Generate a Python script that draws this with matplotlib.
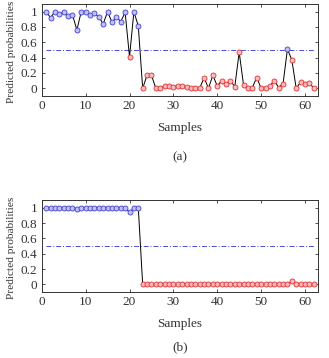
import matplotlib
matplotlib.use("Agg")
import matplotlib.pyplot as plt
import numpy as np

plt.rcParams['font.family'] = ['Liberation Serif', 'DejaVu Serif']

samples = np.arange(1, 63)

# (a) predicted probabilities
prob_a = [1.0, 0.92, 1.0, 0.97, 0.99, 0.94, 0.96, 0.76, 1.0, 1.0,
          0.96, 0.98, 0.93, 0.84, 1.0, 0.86, 0.93, 0.87, 0.99, 0.41,
          1.0, 0.81, 0.0, 0.17, 0.17, 0.0, 0.0, 0.03, 0.03, 0.02,
          0.03, 0.03, 0.02, 0.01, 0.0, 0.0, 0.14, 0.0, 0.17, 0.03,
          0.10, 0.05, 0.10, 0.02, 0.47, 0.04, 0.0, 0.01, 0.14, 0.0,
          0.0, 0.03, 0.10, 0.01, 0.06, 0.51, 0.37, 0.0, 0.08, 0.05,
          0.07, 0.0]

# (b) predicted probabilities
prob_b = [1.0, 1.0, 1.0, 1.0, 1.0, 1.0, 1.0, 0.99, 1.0, 1.0,
          1.0, 1.0, 1.0, 1.0, 1.0, 1.0, 1.0, 1.0, 1.0, 0.94,
          1.0, 1.0, 0.0, 0.0, 0.0, 0.0, 0.0, 0.0, 0.0, 0.0,
          0.0, 0.0, 0.0, 0.0, 0.0, 0.0, 0.0, 0.0, 0.01, 0.0,
          0.0, 0.0, 0.0, 0.0, 0.01, 0.0, 0.0, 0.0, 0.0, 0.0,
          0.0, 0.0, 0.0, 0.0, 0.0, 0.0, 0.04, 0.0, 0.0, 0.0,
          0.0, 0.0]

threshold = 0.5
yticks = [0, 0.2, 0.4, 0.6, 0.8, 1]
xticks = [0, 10, 20, 30, 40, 50, 60]

fig = plt.figure(figsize=(3.29, 3.58), dpi=100)
ax1 = fig.add_axes([0.127, 0.732, 0.840, 0.257])
ax2 = fig.add_axes([0.127, 0.184, 0.840, 0.257])


def draw(ax, p):
    p = np.array(p)
    ax.plot(samples, p, color='black', lw=0.7, zorder=2)
    hi = p >= threshold
    ax.plot(samples[hi], p[hi], 'o', ms=3.6, mfc='#c0c0f2', mec='#4040d0',
            mew=0.6, zorder=3)
    ax.plot(samples[~hi], p[~hi], 'o', ms=3.6, mfc='#f6bcbc', mec='#e03030',
            mew=0.6, zorder=3)
    ax.plot([1, 62], [threshold, threshold], color='#4a4ad8', lw=0.7,
            linestyle=(0, (5, 2, 1, 2)), zorder=1)
    ax.set_xlim(0, 63)
    ax.set_ylim(-0.1, 1.1)
    ax.set_xticks(xticks)
    ax.set_yticks(yticks)
    ax.set_yticklabels(['0', '0.2', '0.4', '0.6', '0.8', '1'])
    ax.tick_params(direction='in', length=2.5, width=0.6, top=True, right=True,
                   labelsize=9.5, colors='#333333', pad=3)
    for s in ax.spines.values():
        s.set_linewidth(0.7)
        s.set_color('#333333')
    ax.set_xlabel('Samples', fontsize=9.5, color='#333333', labelpad=7)
    ax.set_ylabel('Predicted probabilities', fontsize=8.2, color='#333333',
                  labelpad=3)
    ax.yaxis.set_label_coords(-0.095, 0.48)


draw(ax1, prob_a)
draw(ax2, prob_b)
fig.text(0.547, 0.561, '(a)', ha='center', va='center', fontsize=9.5,
         color='#333333')
fig.text(0.547, 0.030, '(b)', ha='center', va='center', fontsize=9.5,
         color='#333333')

fig.savefig('out.png', dpi=100)
